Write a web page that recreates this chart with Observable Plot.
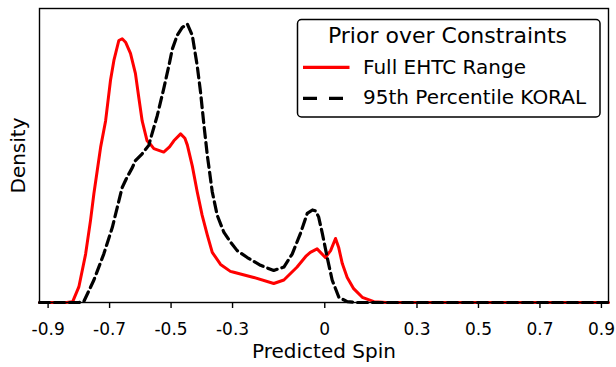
<!DOCTYPE html>
<html>
<head>
<meta charset="utf-8">
<script src="https://cdn.jsdelivr.net/npm/d3@7"></script>
<script src="https://cdn.jsdelivr.net/npm/@observablehq/plot@0.6"></script>
<style>
  html, body { margin: 0; padding: 0; background: white; }
  #wrap { position: relative; width: 616px; height: 367px; font-family: "DejaVu Sans", sans-serif; }
  #legend { position: absolute; left: 0; top: 0; pointer-events: none; }
</style>
</head>
<body>
<div id="wrap"></div>
<script>
// Predicted spin grid (x) and density of each prior (y)
const redSpin = [-0.928, -0.84, -0.82, -0.80, -0.778, -0.762, -0.751, -0.74, -0.729, -0.713, -0.697, -0.686, -0.67, -0.659, -0.648, -0.632, -0.616, -0.605, -0.594, -0.578, -0.565, -0.556, -0.524, -0.505, -0.491, -0.469, -0.455, -0.447, -0.431, -0.415, -0.399, -0.382, -0.366, -0.339, -0.307, -0.296, -0.231, -0.166, -0.133, -0.09, -0.06, -0.047, -0.025, 0.002, 0.019, 0.035, 0.045, 0.057, 0.073, 0.094, 0.122, 0.16, 0.2, 0.923];
const redDensity = [0, 0, 0.01, 0.18, 0.56, 0.95, 1.26, 1.53, 1.80, 2.10, 2.57, 2.80, 3.03, 3.05, 3.01, 2.88, 2.65, 2.37, 2.10, 1.87, 1.82, 1.78, 1.74, 1.80, 1.87, 1.95, 1.90, 1.82, 1.58, 1.28, 1.01, 0.78, 0.58, 0.44, 0.36, 0.35, 0.29, 0.22, 0.26, 0.41, 0.54, 0.58, 0.62, 0.52, 0.60, 0.74, 0.64, 0.45, 0.29, 0.16, 0.06, 0.01, 0, 0];

const blackSpin = [-0.928, -0.80, -0.784, -0.751, -0.719, -0.691, -0.675, -0.659, -0.643, -0.626, -0.616, -0.594, -0.572, -0.567, -0.545, -0.524, -0.507, -0.496, -0.48, -0.464, -0.447, -0.431, -0.415, -0.404, -0.393, -0.382, -0.366, -0.35, -0.328, -0.307, -0.285, -0.252, -0.209, -0.166, -0.133, -0.106, -0.079, -0.057, -0.04, -0.03, -0.02, -0.008, 0.008, 0.024, 0.046, 0.073, 0.10, 0.923];
const blackDensity = [0, 0, 0.01, 0.26, 0.56, 0.87, 1.10, 1.33, 1.45, 1.56, 1.64, 1.72, 1.82, 1.89, 2.16, 2.47, 2.74, 2.93, 3.09, 3.18, 3.22, 3.09, 2.74, 2.43, 2.05, 1.70, 1.28, 1.01, 0.81, 0.70, 0.60, 0.52, 0.43, 0.37, 0.41, 0.56, 0.80, 1.03, 1.07, 1.06, 0.99, 0.80, 0.52, 0.26, 0.06, 0.01, 0, 0];

const xTicks = [-0.9, -0.7, -0.5, -0.3, 0, 0.3, 0.5, 0.7, 0.9];
const seriesNames = ["Full EHTC Range", "95th Percentile KORAL"];
const legendTitle = "Prior over Constraints";

const red = redSpin.map((x, i) => ({x, y: redDensity[i]}));
const black = blackSpin.map((x, i) => ({x, y: blackDensity[i]}));

const fmt = d => d === 0 ? "0" : d.toFixed(1);

const chart = Plot.plot({
  width: 616,
  height: 367,
  marginLeft: 39,
  marginRight: 8,
  marginTop: 8,
  marginBottom: 65,
  style: {fontFamily: "DejaVu Sans", fontSize: "17px", color: "black", background: "white"},
  x: {domain: [-0.928, 0.923]},
  y: {domain: [0, 3.4], axis: null},
  marks: [
    Plot.line(red, {x: "x", y: "y", stroke: "#ff0000", strokeWidth: 3, strokeLinejoin: "round"}),
    Plot.line(black, {x: "x", y: "y", stroke: "black", strokeWidth: 3.2, strokeDasharray: "10,5"}),
    Plot.frame({stroke: "black", strokeWidth: 1.4}),
    Plot.axisX({ticks: xTicks, tickFormat: fmt, tickSize: 6, tickPadding: 14, strokeWidth: 1.4, fontSize: 17, label: null}),
    Plot.text(["Predicted Spin"], {frameAnchor: "bottom", textAnchor: "middle", dy: 55, fontSize: 20}),
    Plot.text(["Density"], {frameAnchor: "left", textAnchor: "middle", rotate: -90, dx: -21, fontSize: 20})
  ]
});

const wrap = document.getElementById("wrap");
wrap.appendChild(chart);

// Legend box drawn on top of the plot area
const ns = "http://www.w3.org/2000/svg";
const leg = d3.select(wrap).append(() => document.createElementNS(ns, "svg"))
  .attr("id", "legend").attr("width", 616).attr("height", 367);
leg.append("rect")
  .attr("x", 297.5).attr("y", 19.5).attr("width", 302.5).attr("height", 97.5)
  .attr("rx", 4).attr("fill", "white").attr("stroke", "black").attr("stroke-width", 1.5);
leg.append("text").attr("x", 447.5).attr("y", 43.3).attr("text-anchor", "middle")
  .attr("font-family", "DejaVu Sans").attr("font-size", 22).text(legendTitle);
const rows = [
  {name: seriesNames[0], y: 67.3, ty: 74, stroke: "#ff0000", dash: null},
  {name: seriesNames[1], y: 98.3, ty: 104.3, stroke: "black", dash: "14,12"}
];
for (const r of rows) {
  leg.append("line").attr("x1", 303).attr("x2", 349.5).attr("y1", r.y).attr("y2", r.y)
    .attr("stroke", r.stroke).attr("stroke-width", 3.2).attr("stroke-dasharray", r.dash);
  leg.append("text").attr("x", 363).attr("y", r.ty)
    .attr("font-family", "DejaVu Sans").attr("font-size", 20).text(r.name);
}
</script>
</body>
</html>
